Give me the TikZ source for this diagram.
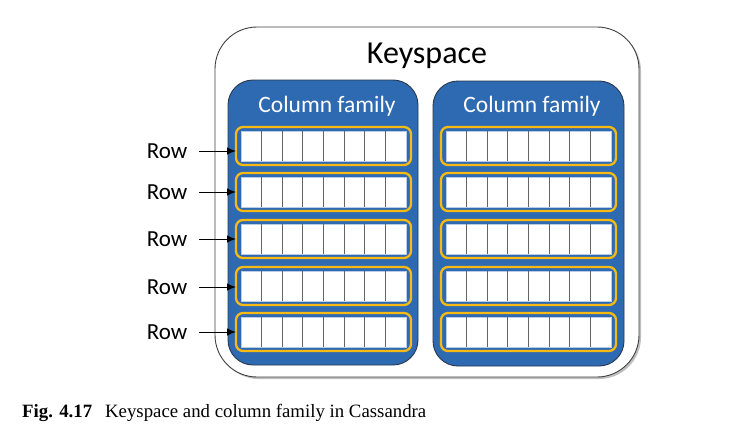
\documentclass[tikz,border=0pt]{standalone}
\usepackage{fontspec}
\setmainfont{Carlito}
\newfontfamily\capfont{Liberation Serif}
\usetikzlibrary{arrows.meta}
\definecolor{cfblue}{RGB}{46,106,177}
\definecolor{cfedge}{RGB}{40,55,80}
\definecolor{rowyel}{RGB}{247,185,20}
\definecolor{cellgray}{RGB}{100,100,100}
\definecolor{celledge}{RGB}{185,205,232}
\tikzset{
  ksbox/.style={draw=black!75, line width=0.9pt, rounded corners=42pt, fill=white, inner sep=0pt, outer sep=0pt, anchor=north west},
  cfbox/.style={draw=cfedge, line width=0.9pt, rounded corners=25pt, fill=cfblue, inner sep=0pt, outer sep=0pt, anchor=north west, minimum height=285pt},
  cftitle/.style={text=white, font=\fontsize{23.5}{26}\selectfont, anchor=base, inner sep=0pt},
  rowbox/.style={draw=rowyel, line width=2.3pt, rounded corners=7pt, fill=cfblue, inner sep=0pt, outer sep=0pt, anchor=north west, minimum width=175pt, minimum height=38pt},
  cellbox/.style={draw=celledge, line width=0.8pt, fill=white, inner sep=0pt, outer sep=0pt, minimum width=165pt, minimum height=30pt},
  cellline/.style={draw=cellgray, line width=1.1pt},
  rowlabel/.style={font=\fontsize{23}{25}\selectfont, inner sep=0pt, outer sep=0pt},
  rowarrow/.style={draw=black, line width=1pt, -{Latex[length=9pt,width=7.5pt]}}
}
\begin{document}
\begin{tikzpicture}[x=1pt,y=-1pt]
\useasboundingbox (0,0) rectangle (729,447);
\fill[white] (0,0) rectangle (729,447);
% keyspace
\fill[black!25, rounded corners=42pt] (217,29) rectangle (641,379);
\node[ksbox, minimum width=424pt, minimum height=350pt] (ks) at (215,27) {};
\node[font=\fontsize{32}{36}\selectfont, anchor=base, inner sep=0pt] (kst) at (427,63) {Keyspace};
% column families
\node[cfbox, minimum width=190pt] (cf1) at (228,80) {};
\node[cfbox, minimum width=191pt] (cf2) at (433,81) {};
\node[cftitle] (cft1) at (327,112) {Column family};
\node[cftitle] (cft2) at (532,112) {Column family};
% rows
\foreach \t [count=\i] in {127,173,220,267,313} {
  \foreach \side/\x in {L/236,R/441} {
    \node[rowbox] (\side\i) at (\x,\t) {};
    \node[cellbox] (\side W\i) at (\side\i.center) {};
    \foreach \k in {1,...,7} {
      \draw[cellline] (\x+5+\k*20.625,\t+4) -- (\x+5+\k*20.625,\t+34);
    }
    \draw[white, line width=1pt] (\x+5+4*20.625+0.6,\t+15) -- (\x+5+4*20.625+3.5,\t+15);
  }
}
% row labels and arrows
\foreach \y [count=\i] in {151,192,239,287,332} {
  \node[rowlabel] (lab\i) at (167,\y) {Row};
  \path (lab\i.east) ++(12pt,0) coordinate (as\i);
  \draw[rowarrow] (as\i) -- (as\i -| L\i.west);
}
% caption
\node[anchor=base west, inner sep=0pt, font=\capfont\fontsize{18.8}{21}\selectfont] (cap) at (22,417) {\textbf{Fig. 4.17}\hskip 13pt Keyspace and column family in Cassandra};
\end{tikzpicture}
\end{document}
